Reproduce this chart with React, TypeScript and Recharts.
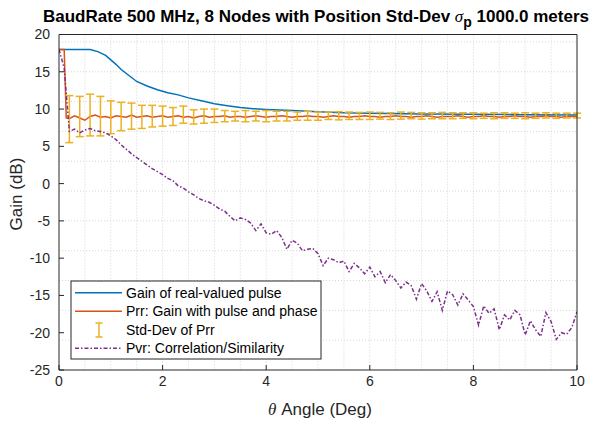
import React from 'react';
import { ComposedChart, Line, XAxis, YAxis, ErrorBar, CartesianGrid, Customized } from 'recharts';

const xTicks = [0, 2, 4, 6, 8, 10];
const yTicks = [-25, -20, -15, -10, -5, 0, 5, 10, 15, 20];

// Gain of real-valued pulse
const blueTheta = [0, 0.25, 0.5, 0.6, 0.75, 0.9, 1.0, 1.1, 1.2, 1.35, 1.5, 1.7, 1.9, 2.1, 2.3, 2.5, 2.75, 3.0, 3.25, 3.5, 3.75, 4.0, 4.5, 5.0, 5.5, 6.0, 7.0, 8.0, 9.0, 10.0];
const blueVal = [18.0, 18.0, 18.0, 18.0, 17.7, 17.2, 16.6, 16.0, 15.3, 14.5, 13.7, 13.1, 12.6, 12.2, 11.9, 11.5, 11.1, 10.7, 10.45, 10.2, 10.05, 9.95, 9.8, 9.65, 9.5, 9.45, 9.35, 9.3, 9.25, 9.2];

// Prr
const orangeTheta = [0, 0.1, 0.14, 0.2, 0.3, 0.4, 0.5, 0.6, 0.7, 0.8, 0.9, 1.0, 1.1, 1.2, 1.3, 1.4, 1.5, 1.6, 1.7, 1.8, 1.9, 2.0, 2.1, 2.2, 2.3, 2.4, 2.5, 2.6, 2.7, 2.8, 2.9, 3.0, 3.1, 3.2, 3.3, 3.4, 3.5, 3.6, 3.7, 3.8, 3.9, 4.0, 4.1, 4.2, 4.3, 4.4, 4.5, 4.6, 4.7, 4.8, 4.9, 5.0, 5.1, 5.2, 5.3, 5.4, 5.5, 5.6, 5.7, 5.8, 5.9, 6.0, 6.1, 6.2, 6.3, 6.4, 6.5, 6.6, 6.7, 6.8, 6.9, 7.0, 7.1, 7.2, 7.3, 7.4, 7.5, 7.6, 7.7, 7.8, 7.9, 8.0, 8.1, 8.2, 8.3, 8.4, 8.5, 8.6, 8.7, 8.8, 8.9, 9.0, 9.1, 9.2, 9.3, 9.4, 9.5, 9.6, 9.7, 9.8, 9.9, 10.0];
const orangeVal = [18.0, 18.0, 8.8, 8.7, 9.1, 8.8, 8.5, 9.0, 9.2, 8.9, 9.0, 8.8, 9.1, 9.0, 8.9, 9.2, 8.9, 9.0, 9.1, 8.9, 9.0, 9.1, 8.9, 9.0, 9.1, 8.9, 9.0, 8.8, 9.0, 9.1, 8.9, 9.0, 9.0, 9.1, 8.9, 9.0, 9.0, 8.9, 9.0, 9.1, 9.0, 8.9, 9.0, 9.0, 9.1, 9.0, 8.9, 9.0, 9.0, 9.1, 9.0, 9.0, 8.9, 9.0, 9.1, 9.0, 9.0, 8.9, 9.0, 9.0, 9.1, 9.0, 9.0, 8.9, 9.0, 9.0, 9.1, 9.0, 9.0, 8.9, 9.0, 9.0, 9.1, 9.0, 8.9, 9.0, 9.0, 9.0, 9.1, 9.0, 8.9, 9.0, 9.0, 9.1, 9.0, 9.0, 8.9, 9.0, 9.0, 9.1, 9.0, 9.0, 8.9, 9.0, 9.0, 9.1, 9.0, 9.0, 8.9, 9.0, 9.0, 9.0];

// Std-Dev of Prr (bar top / bottom)
const errTheta = [0.2, 0.4, 0.6, 0.8, 1.0, 1.2, 1.4, 1.6, 1.8, 2.0, 2.2, 2.4, 2.6, 2.8, 3.0, 3.2, 3.4, 3.6, 3.8, 4.0, 4.2, 4.4, 4.6, 4.8, 5.0, 5.2, 5.4, 5.6, 5.8, 6.0, 6.2, 6.4, 6.6, 6.8, 7.0, 7.2, 7.4, 7.6, 7.8, 8.0, 8.2, 8.4, 8.6, 8.8, 9.0, 9.2, 9.4, 9.6, 9.8, 10.0];
const errTop = [11.8, 11.7, 12.0, 11.7, 11.1, 10.9, 10.8, 10.5, 10.5, 10.4, 10.2, 10.4, 9.9, 10.0, 10.0, 9.8, 9.7, 9.8, 9.7, 9.8, 9.7, 9.7, 9.6, 9.7, 9.6, 9.6, 9.65, 9.6, 9.55, 9.6, 9.55, 9.5, 9.6, 9.55, 9.5, 9.5, 9.55, 9.5, 9.5, 9.5, 9.45, 9.5, 9.5, 9.45, 9.5, 9.45, 9.5, 9.45, 9.45, 9.45];
const errBot = [5.5, 6.3, 6.4, 6.4, 6.7, 7.1, 7.3, 7.4, 7.6, 7.7, 7.8, 8.1, 8.0, 8.1, 8.2, 8.3, 8.4, 8.3, 8.4, 8.3, 8.4, 8.4, 8.5, 8.5, 8.5, 8.6, 8.55, 8.6, 8.6, 8.6, 8.65, 8.6, 8.65, 8.7, 8.65, 8.7, 8.7, 8.7, 8.75, 8.7, 8.75, 8.7, 8.75, 8.75, 8.7, 8.75, 8.8, 8.75, 8.8, 8.8];

// Pvr (theta 0..10 step 0.1)
const purpleVal = [18.0, 15.5, 7.0, 7.3, 6.8, 7.2, 7.4, 7.1, 7.0, 6.8, 6.4, 5.9, 5.2, 4.6, 4.0, 3.5, 3.0, 2.5, 2.0, 1.6, 1.2, 0.7, 0.4, -0.3, -0.6, -1.1, -1.5, -2.0, -2.3, -2.5, -2.9, -3.4, -3.7, -4.4, -5.0, -4.6, -4.8, -5.3, -6.3, -5.4, -6.6, -6.8, -6.3, -7.2, -8.8, -7.6, -8.0, -9.0, -8.8, -8.7, -9.4, -11.0, -10.0, -10.2, -10.6, -10.4, -11.8, -10.7, -11.3, -12.1, -11.2, -12.5, -11.8, -13.3, -12.2, -13.0, -14.0, -13.2, -13.7, -15.5, -13.4, -14.4, -15.8, -14.5, -17.0, -14.4, -14.9, -16.3, -14.8, -15.6, -16.5, -19.0, -16.4, -17.4, -16.8, -19.6, -17.6, -18.3, -17.0, -17.6, -20.3, -18.4, -19.6, -20.5, -17.3, -18.5, -20.9, -20.0, -20.2, -19.3, -17.2];

const blueData = blueTheta.map((t, i) => ({ t, v: blueVal[i] }));
const orangeData = orangeTheta.map((t, i) => ({ t, v: orangeVal[i] }));
const errData = errTheta.map((t, i) => ({
  t,
  c: (errTop[i] + errBot[i]) / 2,
  e: (errTop[i] - errBot[i]) / 2,
}));
const purpleData = purpleVal.map((v, i) => ({ t: i / 10, v }));

const minorX: number[] = [];
for (let i = 1; i < 20; i++) minorX.push(i * 0.5);
const minorY: number[] = [];
for (let i = -24; i < 20; i++) minorY.push(i);

const BLUE = '#0072BD';
const ORANGE = '#D95319';
const YELLOW = '#EDB120';
const PURPLE = '#7E2F8E';
const AX = '#262626';
const FONT = '"Liberation Sans", Arial, Helvetica, sans-serif';
const SERIF = '"Liberation Serif", "Times New Roman", serif';

const Decorations = () => (
  <g fontFamily={FONT}>
    <text x={316} y={21.5} textAnchor="middle" fontSize={17} fontWeight="bold" fill="#000">
      BaudRate 500 MHz, 8 Nodes with Position Std-Dev{' '}
      <tspan fontFamily={SERIF} fontStyle="italic" fontWeight="normal">σ</tspan>
      <tspan dy={5} fontSize={14}>p</tspan>
      <tspan dy={-5}> 1000.0 meters</tspan>
    </text>
    <text x={320} y={414.5} textAnchor="middle" fontSize={17} fill={AX}>
      <tspan fontFamily={SERIF} fontStyle="italic">θ</tspan> Angle (Deg)
    </text>
    <text x={22} y={194} textAnchor="middle" fontSize={17} fill={AX} transform="rotate(-90 22 194)">
      Gain (dB)
    </text>
    <g>
      <rect x={71} y={281} width={250} height={78} fill="#fff" stroke={AX} strokeWidth={1} />
      <line x1={75} x2={122} y1={292.7} y2={292.7} stroke={BLUE} strokeWidth={1.5} />
      <text x={126} y={297.7} fontSize={14} fill="#000">Gain of real-valued pulse</text>
      <line x1={75} x2={122} y1={311.2} y2={311.2} stroke={ORANGE} strokeWidth={1.5} />
      <text x={126} y={316.2} fontSize={14} fill="#000">Prr: Gain with pulse and phase</text>
      <line x1={99} x2={99} y1={323} y2={337} stroke={YELLOW} strokeWidth={1.5} />
      <line x1={95.5} x2={102.5} y1={323} y2={323} stroke={YELLOW} strokeWidth={1.5} />
      <line x1={95.5} x2={102.5} y1={337} y2={337} stroke={YELLOW} strokeWidth={1.5} />
      <text x={126} y={334.7} fontSize={14} fill="#000">Std-Dev of Prr</text>
      <line x1={75} x2={122} y1={348.2} y2={348.2} stroke={PURPLE} strokeWidth={1.5} strokeDasharray="4 2 1.5 2" />
      <text x={126} y={353.2} fontSize={14} fill="#000">Pvr: Correlation/Similarity</text>
    </g>
  </g>
);

export default function App() {
  return (
    <div style={{ position: 'absolute', left: 0, top: 0, width: 593, height: 424, background: '#fff' }}>
      <ComposedChart width={593} height={424} margin={{ top: 30, right: 12, bottom: 3, left: 0 }}>
        <CartesianGrid verticalValues={minorX} horizontalValues={minorY} stroke="#d6d6d6" strokeDasharray="1 2" />
        <XAxis
          xAxisId={0}
          type="number"
          dataKey="t"
          domain={[0, 10]}
          ticks={xTicks}
          allowDataOverflow
          height={51}
          stroke={AX}
          tickSize={-5}
          tickMargin={11}
          tick={{ fill: AX, fontSize: 14, fontFamily: FONT }}
        />
        <XAxis
          xAxisId="top"
          orientation="top"
          type="number"
          dataKey="t"
          domain={[0, 10]}
          ticks={xTicks}
          allowDataOverflow
          height={4.5}
          stroke={AX}
          tickSize={-5}
          tick={false}
        />
        <YAxis
          yAxisId={0}
          type="number"
          domain={[-25, 20]}
          ticks={yTicks}
          allowDataOverflow
          width={59}
          stroke={AX}
          tickSize={-5}
          tickMargin={14}
          tick={{ fill: AX, fontSize: 14, fontFamily: FONT }}
        />
        <YAxis
          yAxisId="right"
          orientation="right"
          type="number"
          domain={[-25, 20]}
          ticks={yTicks}
          allowDataOverflow
          width={4}
          stroke={AX}
          tickSize={-5}
          tick={false}
        />
        <Line data={blueData} dataKey="v" stroke={BLUE} strokeWidth={1.5} dot={false} isAnimationActive={false} />
        <Line data={orangeData} dataKey="v" stroke={ORANGE} strokeWidth={1.5} dot={false} isAnimationActive={false} />
        <Line data={errData} dataKey="c" stroke="none" dot={false} isAnimationActive={false}>
          <ErrorBar dataKey="e" direction="y" width={4} stroke={YELLOW} strokeWidth={1.5} isAnimationActive={false} />
        </Line>
        <Line data={purpleData} dataKey="v" stroke={PURPLE} strokeWidth={1.5} strokeDasharray="4 2 1.5 2" dot={false} isAnimationActive={false} />
        <Customized component={Decorations} />
      </ComposedChart>
    </div>
  );
}
